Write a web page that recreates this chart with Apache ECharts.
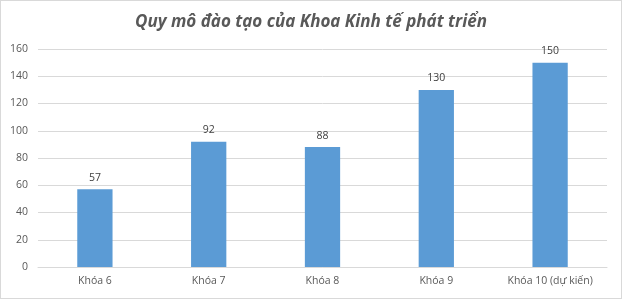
<!DOCTYPE html>
<html><head><meta charset="utf-8">
<script src="https://cdn.jsdelivr.net/npm/echarts@6/dist/echarts.min.js"></script>
<style>html,body{margin:0;padding:0;background:#fff}#c{width:622px;height:299px;box-sizing:border-box;border:1px solid #d9d9d9}</style>
</head><body><div id="c"></div>
<script>
const categories = ["Khóa 6", "Khóa 7", "Khóa 8", "Khóa 9", "Khóa 10 (dự kiến)"];
const values = [57, 92, 88, 130, 150];
const titleText = "Quy mô đào tạo của Khoa Kinh tế phát triển";
const chart = echarts.init(document.getElementById('c'));
chart.setOption({
  animation: false,
  title: {text: titleText, left: 'center', top: 8,
    textStyle: {fontFamily: 'Open Sans', fontSize: 17, fontWeight: 'bold', fontStyle: 'italic', color: '#595959'}},
  grid: {left: 37, right: 14, top: 48, bottom: 31},
  xAxis: {type: 'category', data: categories,
    axisLine: {lineStyle: {color: '#d9d9d9'}}, axisTick: {show: false},
    axisLabel: {interval: 0, color: '#595959', fontSize: 10.5, fontFamily: 'Open Sans', margin: 9}},
  yAxis: {type: 'value', min: 0, max: 160, interval: 20,
    axisLine: {show: false}, axisTick: {show: false},
    splitLine: {lineStyle: {color: '#d9d9d9'}},
    axisLabel: {color: '#595959', fontSize: 10.5, fontFamily: 'Open Sans', margin: 10}},
  series: [{type: 'bar', data: values, barWidth: '31%', itemStyle: {color: '#5b9bd5'},
    label: {show: true, position: 'top', color: '#404040', fontSize: 10.5, fontFamily: 'Open Sans', distance: 6}}]
});
</script></body></html>
